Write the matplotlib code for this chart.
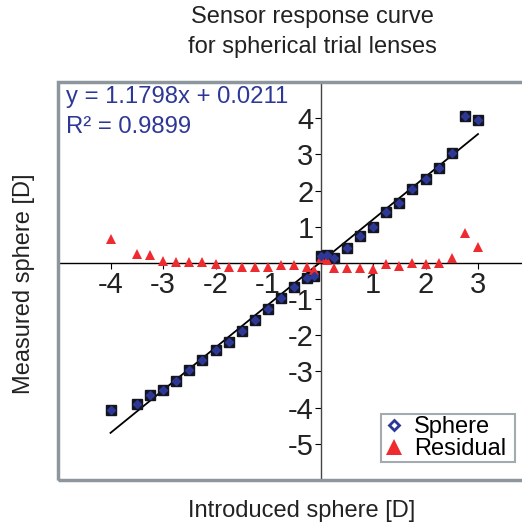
import numpy as np
import matplotlib.pyplot as plt
from matplotlib.lines import Line2D
from matplotlib.patches import Rectangle

plt.rcParams['font.family'] = ['Liberation Sans', 'DejaVu Sans']

# introduced sphere [D]
introduced = [-4, -3.5, -3.25, -3, -2.75, -2.5, -2.25, -2, -1.75, -1.5, -1.25, -1,
              -0.75, -0.5, -0.25, -0.125, 0, 0.125, 0.25, 0.5, 0.75, 1, 1.25, 1.5,
              1.75, 2, 2.25, 2.5, 2.75, 3]
# measured sphere [D]
measured = [-4.06, -3.9, -3.65, -3.51, -3.26, -2.96, -2.69, -2.4, -2.18, -1.88, -1.58, -1.28,
            -0.96, -0.67, -0.43, -0.37, 0.18, 0.22, 0.14, 0.42, 0.73, 0.99, 1.4, 1.65,
            2.04, 2.32, 2.61, 3.05, 4.06, 3.94]
# residual
residual = [0.65, 0.26, 0.21, 0.05, 0.03, 0.03, 0.02, -0.04, -0.11, -0.11, -0.11, -0.11,
            -0.07, -0.05, -0.11, -0.2, 0.14, 0.09, -0.15, -0.14, -0.14, -0.18, -0.03, -0.09,
            0.0, -0.03, 0.0, 0.14, 0.84, 0.44]

slope = 1.1798
intercept = 0.0211
fit_x = np.array([-4, 3])

fig = plt.figure(figsize=(5.22, 5.26), dpi=100)
ax = fig.add_axes([58 / 522, 46 / 526, 472.5 / 522, 398 / 526])
ax.set_xlim(-5, 4)
ax.set_ylim(-6, 5)

blue = '#2d3796'
red = '#ee2b2e'
frame = '#8d969c'
txt = '#222222'

ax.plot(fit_x, slope * fit_x + intercept, color='black', lw=1.3, zorder=2)
ax.plot(introduced, measured, 's', color='#15151f', ms=7.2, zorder=3)
ax.plot(introduced, measured, 'D', color=blue, ms=4, zorder=4)
ax.plot(introduced, residual, '^', color=red, ms=6.5, mew=0, zorder=3)

# spines through the origin
for s in ['top', 'right']:
    ax.spines[s].set_visible(False)
ax.spines['left'].set_position(('data', 0))
ax.spines['bottom'].set_position(('data', 0))
ax.spines['left'].set_color('#444444')
ax.spines['bottom'].set_color('black')
ax.spines['left'].set_linewidth(1)
ax.spines['bottom'].set_linewidth(1)

ax.set_xticks(range(-4, 4))
ax.set_xticklabels([str(v) if v != 0 else '' for v in range(-4, 4)])
ax.set_yticks(range(-6, 5))
ax.set_yticklabels(['' if v in (0, -6) else str(v) for v in range(-6, 5)])
ax.tick_params(axis='x', direction='out', length=4, labelsize=21, pad=2)
ax.tick_params(axis='y', direction='out', length=4, labelsize=21, pad=1)
for lbl in ax.get_xticklabels() + ax.get_yticklabels():
    lbl.set_color(txt)

ax.add_patch(Rectangle((0, 0), 1, 1, transform=ax.transAxes, fill=False,
                       ec=frame, lw=2.5, clip_on=False, zorder=5))

fig.text(312 / 522, 1 - 17 / 526, 'Sensor response curve', ha='center', va='center',
         fontsize=17, color=txt)
fig.text(312 / 522, 1 - 47 / 526, 'for spherical trial lenses', ha='center', va='center',
         fontsize=17, color=txt)
fig.text(302 / 522, 1 - 511 / 526, 'Introduced sphere [D]', ha='center', va='center',
         fontsize=17, color=txt)
fig.text(24 / 522, 1 - 284 / 526, 'Measured sphere [D]', ha='center', va='center',
         rotation=90, fontsize=17, color=txt)

fig.text(66 / 522, 1 - 97 / 526, 'y = 1.1798x + 0.0211', ha='left', va='center',
         fontsize=17.2, color=blue)
fig.text(66 / 522, 1 - 127 / 526, 'R\u00b2 = 0.9899', ha='left', va='center',
         fontsize=17.2, color=blue)

handles = [Line2D([], [], ls='none', marker='D', ms=5, mfc='white', mec=blue, mew=2),
           Line2D([], [], ls='none', marker='^', ms=11, color=red, mew=0)]
leg = ax.legend(handles, ['Sphere', 'Residual'], loc='center left',
                bbox_to_anchor=(381 / 522, 1 - 467 / 526, 134 / 522, 58 / 526),
                bbox_transform=fig.transFigure, mode='expand',
                fontsize=17, frameon=True, fancybox=False, handlelength=0.9,
                handletextpad=0.4, borderpad=0.1, labelspacing=0.0, borderaxespad=0)
leg.get_frame().set_edgecolor(frame)
leg.get_frame().set_linewidth(1.5)

fig.savefig('out.png', dpi=100)
